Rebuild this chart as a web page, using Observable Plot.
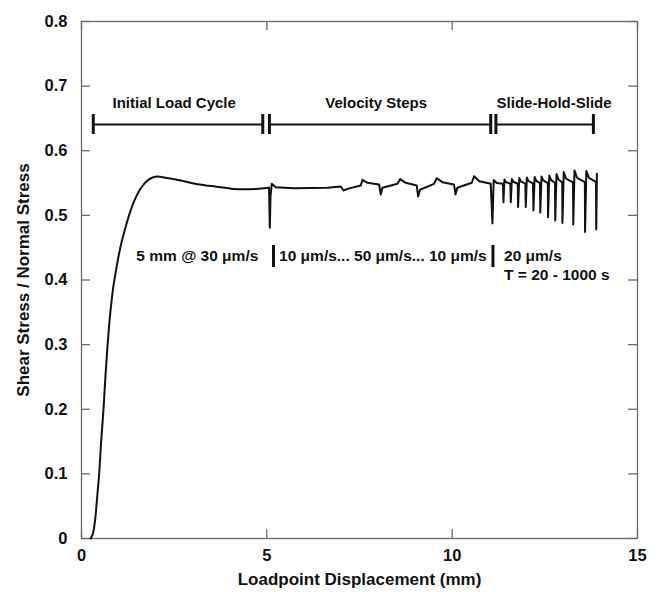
<!DOCTYPE html>
<html>
<head>
<meta charset="utf-8">
<script src="https://cdn.jsdelivr.net/npm/d3@7"></script>
<script src="https://cdn.jsdelivr.net/npm/@observablehq/plot@0.6"></script>
<style>
  html, body { margin: 0; padding: 0; background: #fff; }
  svg text { font-weight: bold; }
</style>
</head>
<body>
<div id="chart"></div>
<script>
// ---- data ----
// Loadpoint displacement (mm) — initial loading up to the first hold
const loadDisplacement = [
  0.25, 0.31, 0.37, 0.42, 0.475, 0.53, 0.593, 0.645, 0.70, 0.75, 0.80, 0.86, 0.925, 1.00, 1.10, 1.20, 1.30, 1.42, 1.60, 1.78, 1.92, 2.06, 2.22, 2.68, 3.13, 3.57, 4.11, 4.70, 5.06
];
const loadStress = [
  0, 0.008, 0.03, 0.062, 0.099, 0.15, 0.2, 0.25, 0.297, 0.333, 0.362, 0.39, 0.413, 0.437, 0.463, 0.484, 0.503, 0.522, 0.542, 0.554, 0.5586, 0.560, 0.5586, 0.554, 0.548, 0.545, 0.541, 0.541, 0.5427
];
// velocity steps and slide-hold-slide section
const stepDisplacement = [
  5.06, 5.08, 5.10, 5.134, 5.241, 5.735, 6.636, 6.995, 7.068, 7.175, 7.534, 7.58, 7.715, 8.03, 8.074, 8.12, 8.524, 8.595, 8.748, 9.045, 9.08, 9.134, 9.51, 9.585, 9.738, 10.05, 10.09, 10.14, 10.53, 10.59, 10.73, 11.04,
  11.087, 11.12, 11.2, 11.37,
  11.384, 11.41, 11.45, 11.57,
  11.581, 11.61, 11.65, 11.77,
  11.778, 11.81, 11.85, 11.975,
  11.985, 12.015, 12.06, 12.18,
  12.193, 12.225, 12.27, 12.37,
  12.377, 12.41, 12.46, 12.58,
  12.587, 12.62, 12.67, 12.775,
  12.781, 12.815, 12.87, 12.97,
  12.975, 13.01, 13.07, 13.26,
  13.267, 13.30, 13.37, 13.58,
  13.585, 13.62, 13.69, 13.88,
  13.887, 13.905
];
const stepStress = [
  0.5427, 0.481, 0.53, 0.5488, 0.5436, 0.542, 0.5427, 0.5447, 0.5385, 0.541, 0.5462, 0.555, 0.5504, 0.5478, 0.5323, 0.5427, 0.5488, 0.556, 0.5504, 0.5462, 0.5292, 0.5396, 0.5488, 0.5575, 0.5514, 0.5478, 0.5323, 0.5427, 0.5504, 0.5606, 0.5529, 0.5488,
  0.4874, 0.5547, 0.550, 0.549,
  0.5204, 0.5555, 0.5515, 0.549,
  0.5204, 0.5563, 0.552, 0.549,
  0.513, 0.5578, 0.5525, 0.549,
  0.513, 0.5586, 0.553, 0.5495,
  0.5075, 0.5594, 0.5535, 0.550,
  0.5044, 0.5602, 0.554, 0.550,
  0.4972, 0.5617, 0.5545, 0.5505,
  0.4921, 0.5640, 0.5555, 0.551,
  0.4882, 0.5671, 0.557, 0.551,
  0.4859, 0.5694, 0.558, 0.5515,
  0.4743, 0.5687, 0.558, 0.552,
  0.4781, 0.5646
];

const xTicks = [0, 5, 10, 15];
const xTickLabels = ["0", "5", "10", "15"];
const yTicks = [0, 0.1, 0.2, 0.3, 0.4, 0.5, 0.6, 0.7, 0.8];
const yTickLabels = ["0", "0.1", "0.2", "0.3", "0.4", "0.5", "0.6", "0.7", "0.8"];

// experiment phases (brackets across the top)
const phaseNames = ["Initial Load Cycle", "Velocity Steps", "Slide-Hold-Slide"];
const phaseStart = [0.318, 5.07, 11.18];
const phaseEnd = [4.89, 11.04, 13.81];
const phaseLabelX = [2.5, 7.95, 12.75];
const bracketLevel = 0.6406;
const phaseLabelLevel = 0.673;

// condition notes under the curve
const noteTexts = ["5 mm @ 30 \u03bcm/s", "10 \u03bcm/s... 50 \u03bcm/s... 10 \u03bcm/s", "20 \u03bcm/s", "T = 20 - 1000 s"];
const noteX = [1.48, 5.33, 11.40, 11.40];
const noteY = [0.4369, 0.4369, 0.4369, 0.408];
const separatorX = [5.18, 11.10];
const separatorLow = 0.4193;
const separatorHigh = 0.4534;

// ---- build ----
const loading = loadDisplacement.map((x, i) => ({x, y: loadStress[i]}));
const steps = stepDisplacement.map((x, i) => ({x, y: stepStress[i]}));
const phases = phaseNames.map((name, i) => ({name, x1: phaseStart[i], x2: phaseEnd[i], cx: phaseLabelX[i]}));
const caps = phases.flatMap(p => [p.x1, p.x2]);
const notes = noteTexts.map((t, i) => ({t, x: noteX[i], y: noteY[i]}));

const W = 657, H = 592;
const mL = 81, mR = 20, mT = 21, mB = 54;
const innerW = W - mL - mR, innerH = H - mT - mB;
const tickLen = 9;
const frameColor = "#6a6a6a";
const ink = "#111";
const font = "'Liberation Sans', Arial, Helvetica, sans-serif";

const chart = Plot.plot({
  width: W,
  height: H,
  marginLeft: mL,
  marginRight: mR,
  marginTop: mT,
  marginBottom: mB,
  style: {fontFamily: font, color: ink, background: "#fff"},
  x: {domain: [0, 15]},
  y: {domain: [0, 0.8]},
  marks: [
    Plot.frame({stroke: frameColor, strokeWidth: 1.3}),
    // inward ticks on all four sides
    Plot.tickY(yTicks, {y: d => d, insetRight: innerW - tickLen, stroke: frameColor, strokeWidth: 1.3}),
    Plot.tickY(yTicks, {y: d => d, insetLeft: innerW - tickLen, stroke: frameColor, strokeWidth: 1.3}),
    Plot.tickX(xTicks, {x: d => d, insetTop: innerH - tickLen, stroke: frameColor, strokeWidth: 1.3}),
    Plot.tickX(xTicks, {x: d => d, insetBottom: innerH - tickLen, stroke: frameColor, strokeWidth: 1.3}),
    Plot.axisX({
      ticks: xTicks, tickSize: 0, tickPadding: 11, fontSize: 16.5,
      tickFormat: d => xTickLabels[xTicks.indexOf(d)],
      label: "Loadpoint Displacement (mm)", labelAnchor: "center", labelOffset: 46, labelArrow: "none"
    }),
    Plot.axisY({
      ticks: yTicks, tickSize: 0, tickPadding: 14, fontSize: 16.5,
      tickFormat: d => yTickLabels[yTicks.indexOf(d)],
      label: "Shear Stress / Normal Stress", labelAnchor: "center", labelOffset: 65, labelArrow: "none"
    }),
    // data curve
    Plot.line(loading, {x: "x", y: "y", stroke: ink, strokeWidth: 2, curve: "catmull-rom"}),
    Plot.line(steps, {x: "x", y: "y", stroke: ink, strokeWidth: 2, strokeLinejoin: "round", curve: "linear"}),
    // phase brackets
    Plot.ruleY(phases, {y: () => bracketLevel, x1: "x1", x2: "x2", stroke: ink, strokeWidth: 2.2}),
    Plot.ruleX(caps, {x: d => d, y1: bracketLevel - 0.0155, y2: bracketLevel + 0.0155, stroke: ink, strokeWidth: 3}),
    Plot.text(phases, {x: "cx", y: () => phaseLabelLevel, text: "name", fontSize: 15, fill: ink}),
    // condition notes
    Plot.ruleX(separatorX, {x: d => d, y1: separatorLow, y2: separatorHigh, stroke: ink, strokeWidth: 3}),
    Plot.text(notes, {x: "x", y: "y", text: "t", textAnchor: "start", fontSize: 15.5, fill: ink})
  ]
});

chart.querySelectorAll("g[aria-label='x-axis label'] text, g[aria-label='y-axis label'] text").forEach(t => t.setAttribute("font-size", 17));
document.getElementById("chart").appendChild(chart);
</script>
</body>
</html>
